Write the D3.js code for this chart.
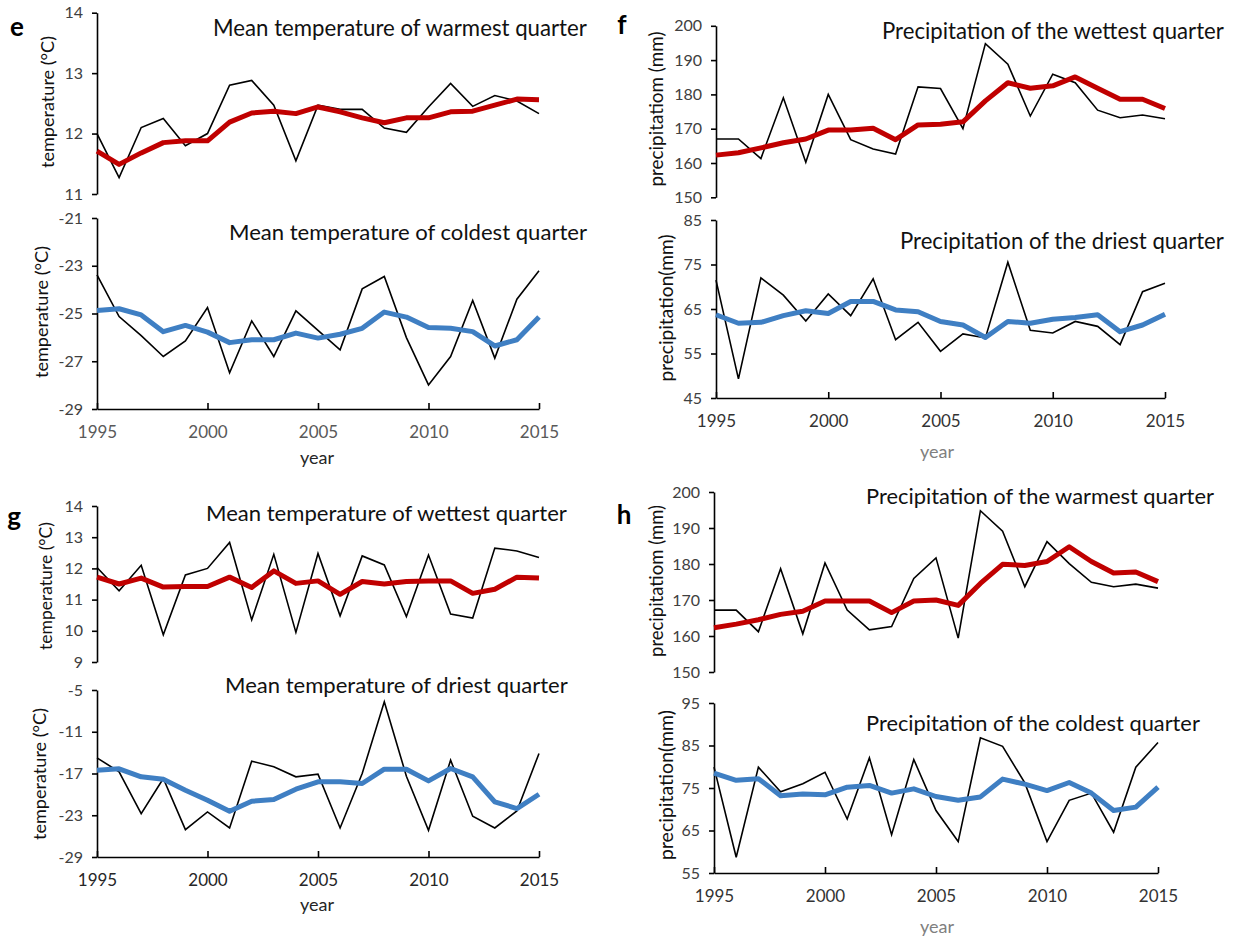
<!DOCTYPE html>
<html><head><meta charset="utf-8">
<script src="https://cdn.jsdelivr.net/npm/d3@7"></script>
<style>
html,body{margin:0;padding:0;background:#fff;}
svg{display:block;font-family:Lato,"Open Sans",sans-serif;}
</style></head>
<body>
<svg id="chart" width="1236" height="939"></svg>
<script>
// ---------------- DATA ----------------
const years = [1995,1996,1997,1998,1999,2000,2001,2002,2003,2004,2005,2006,2007,2008,2009,2010,2011,2012,2013,2014,2015];
const xTickYears = [1995,2000,2005,2010,2015];

// e: mean temperature of warmest quarter
const eWarmAnnual = [12.0,11.27,12.1,12.25,11.8,12.0,12.8,12.88,12.47,11.55,12.47,12.4,12.4,12.09,12.02,12.44,12.83,12.45,12.63,12.54,12.33];
const eWarmSmooth = [11.71,11.49,11.68,11.85,11.88,11.88,12.19,12.34,12.37,12.33,12.44,12.36,12.26,12.18,12.26,12.26,12.36,12.37,12.47,12.57,12.56];
const eWarmTicks = [11,12,13,14];
// e: mean temperature of coldest quarter
const eColdAnnual = [-23.38,-25.13,-25.93,-26.8,-26.15,-24.75,-27.48,-25.31,-26.8,-24.89,-25.71,-26.52,-23.97,-23.45,-26.01,-27.99,-26.8,-24.45,-26.87,-24.4,-23.21];
const eColdSmooth = [-24.87,-24.8,-25.06,-25.76,-25.5,-25.78,-26.22,-26.1,-26.1,-25.82,-26.03,-25.87,-25.62,-24.94,-25.15,-25.59,-25.62,-25.76,-26.36,-26.1,-25.15];
const eColdTicks = [-29,-27,-25,-23,-21];

// f: precipitation of the wettest quarter
const fWetAnnual = [167,167,161.3,179,160.2,180,166.8,164.1,162.6,182.2,181.7,170,194.8,188.8,173.7,185.9,183.4,175.4,173.2,174,172.9];
const fWetSmooth = [162.3,163,164.4,165.9,167,169.6,169.6,170.1,166.8,171.1,171.3,172,178.1,183.4,181.8,182.5,185.1,181.8,178.6,178.6,175.9];
const fWetTicks = [150,160,170,180,190,200];
// f: precipitation of the driest quarter
const fDryAnnual = [71.5,49.3,72,68.1,62.3,68.4,63.5,71.8,58.1,62,55.5,59.4,58.5,75.5,60.2,59.6,62.2,61.1,57,68.9,70.8];
const fDrySmooth = [63.7,61.8,62,63.5,64.6,64,66.7,66.7,64.8,64.4,62.2,61.4,58.6,62.2,61.8,62.7,63.1,63.7,59.9,61.4,63.8];
const fDryTicks = [45,55,65,75,85];

// g: mean temperature of wettest quarter
const gWetAnnual = [12.03,11.28,12.1,9.87,11.79,12.0,12.83,10.35,12.45,9.95,12.48,10.48,12.4,12.11,10.46,12.43,10.54,10.41,12.65,12.56,12.35];
const gWetSmooth = [11.72,11.5,11.69,11.4,11.42,11.42,11.72,11.39,11.92,11.52,11.6,11.17,11.58,11.5,11.58,11.6,11.6,11.2,11.33,11.72,11.69];
const gWetTicks = [9,10,11,12,13,14];
// g: mean temperature of driest quarter
const gDryAnnual = [-14.75,-16.76,-22.76,-17.72,-25.07,-22.52,-24.83,-15.23,-16.04,-17.48,-17.1,-24.83,-17.0,-6.68,-17.39,-25.17,-15.08,-23.14,-24.83,-22.38,-14.12];
const gDrySmooth = [-16.52,-16.33,-17.48,-17.82,-19.4,-20.84,-22.43,-20.99,-20.75,-19.26,-18.2,-18.2,-18.44,-16.38,-16.38,-18.06,-16.28,-17.48,-21.08,-22.04,-19.98];
const gDryTicks = [-29,-23,-17,-11,-5];

// h: precipitation of the warmest quarter
const hWarmAnnual = [167.2,167.2,161.2,178.7,160.6,180.3,167.2,161.7,162.6,176,181.7,159.4,194.8,189.1,173.7,186.2,180.1,174.9,173.7,174.4,173.3];
const hWarmSmooth = [162.3,163.3,164.5,166,166.9,169.7,169.7,169.7,166.5,169.7,170,168.5,174.6,179.9,179.6,180.7,184.8,180.7,177.5,177.8,175.1];
const hWarmTicks = [150,160,170,180,190,200];
// h: precipitation of the coldest quarter
const hColdAnnual = [79.9,58.7,79.9,74.1,76,78.7,67.7,82.1,64,81.7,69.7,62.4,86.8,84.8,76.2,62.4,72.1,73.8,64.6,79.9,85.7];
const hColdSmooth = [78.5,76.8,77.2,73.2,73.6,73.4,75.2,75.6,73.8,74.8,73,72.1,72.9,77.1,75.9,74.4,76.3,73.8,69.7,70.5,75.2];
const hColdTicks = [55,65,75,85,95];

// ---------------- LAYOUT ----------------
const RED = "#c00000", BLUE = "#3f7fc3";
const panels = [
  {x0:97,x1:539,yT:12.7,yB:194,ticks:eWarmTicks,a:eWarmAnnual,s:eWarmSmooth,c:RED,
   title:"Mean temperature of warmest quarter",tx:213,ty:28,tw:374,
   yl:"temperature (°C)",ylx:48,yly:102,ylw:132,xaxis:false},
  {x0:97,x1:539,yT:218,yB:409,ticks:eColdTicks,a:eColdAnnual,s:eColdSmooth,c:BLUE,
   title:"Mean temperature of coldest quarter",tx:229,ty:232,tw:358,
   yl:"temperature (°C)",ylx:42,yly:312,ylw:132,xaxis:true,xlc:"#595959",year:{x:317,y:458,c:"#262626"}},
  {x0:716,x1:1165,yT:25.8,yB:197.3,ticks:fWetTicks,a:fWetAnnual,s:fWetSmooth,c:RED,
   title:"Precipitation of the wettest quarter",tx:882,ty:31,tw:342,
   yl:"precipitatiom (mm)",ylx:656,yly:109,ylw:155,xaxis:false},
  {x0:716,x1:1165,yT:220,yB:398,ticks:fDryTicks,a:fDryAnnual,s:fDrySmooth,c:BLUE,
   title:"Precipitation of the driest quarter",tx:900,ty:241,tw:324,
   yl:"precipitation(mm)",ylx:666,yly:308,ylw:147,xaxis:true,xlc:"#333333",year:{x:937,y:452,c:"#808080"}},
  {x0:97,x1:539,yT:506,yB:662,ticks:gWetTicks,a:gWetAnnual,s:gWetSmooth,c:RED,
   title:"Mean temperature of wettest quarter",tx:206,ty:513,tw:361,
   yl:"temperature (°C)",ylx:46,yly:586,ylw:128,xaxis:false},
  {x0:97,x1:539,yT:690,yB:857,ticks:gDryTicks,a:gDryAnnual,s:gDrySmooth,c:BLUE,
   title:"Mean temperature of driest quarter",tx:225,ty:685,tw:343,
   yl:"temperature (°C)",ylx:40,yly:774,ylw:132,xaxis:true,xlc:"#262626",year:{x:317,y:905,c:"#262626"}},
  {x0:714,x1:1158,yT:492,yB:672,ticks:hWarmTicks,a:hWarmAnnual,s:hWarmSmooth,c:RED,
   title:"Precipitation of the warmest quarter",tx:866,ty:496,tw:348,
   yl:"precipitatiom (mm)",ylx:657,yly:581,ylw:152,xaxis:false},
  {x0:714,x1:1158,yT:703,yB:873,ticks:hColdTicks,a:hColdAnnual,s:hColdSmooth,c:BLUE,
   title:"Precipitation of the coldest quarter",tx:866,ty:723,tw:334,
   yl:"precipitation(mm)",ylx:666,yly:785,ylw:150,xaxis:true,xlc:"#333333",year:{x:937,y:927,c:"#808080"}}
];
const letters = [{t:"e",x:17,y:27},{t:"f",x:622,y:25},{t:"g",x:14,y:517},{t:"h",x:624,y:515}];

const svg = d3.select("#chart");

function fitText(sel, base, target){
  sel.style("font-size", base+"px");
  const len = sel.node().getComputedTextLength();
  if (len>0) sel.style("font-size", (base*target/len).toFixed(2)+"px");
}

panels.forEach(p=>{
  const x = d3.scaleLinear().domain([years[0], years[years.length-1]]).range([p.x0,p.x1]);
  const y = d3.scaleLinear().domain([p.ticks[0], p.ticks[p.ticks.length-1]]).range([p.yB,p.yT]);
  const g = svg.append("g");

  // y axis
  const ya = g.append("g").attr("transform",`translate(${p.x0},0)`)
    .call(d3.axisLeft(y).tickValues(p.ticks).tickSizeInner(5).tickSizeOuter(0).tickPadding(9).tickFormat(d=>String(d)));
  ya.select(".domain").attr("stroke","#000").attr("stroke-width",1.6);
  ya.selectAll(".tick line").attr("stroke","#000").attr("stroke-width",1.6);
  ya.selectAll(".tick text").attr("fill","#404040").style("font-size","16px").style("font-family","Lato,sans-serif");

  if (p.xaxis){
    const xa = g.append("g").attr("transform",`translate(0,${p.yB})`)
      .call(d3.axisBottom(x).tickValues(xTickYears).tickSizeInner(-6).tickSizeOuter(0).tickPadding(17).tickFormat(d=>String(d)));
    xa.select(".domain").attr("stroke","#000").attr("stroke-width",1.6);
    xa.selectAll(".tick line").attr("stroke","#000").attr("stroke-width",1.6);
    xa.selectAll(".tick text").attr("fill",p.xlc).style("font-size","17px").style("font-family","Lato,sans-serif");
    g.append("text").attr("x",p.year.x).attr("y",p.year.y).attr("dy","0.35em")
      .attr("text-anchor","middle").attr("fill",p.year.c).style("font-size","18px").text("year");
  }

  const line = d3.line().x((d,i)=>x(years[i])).y(d=>y(d));
  g.append("path").datum(p.a).attr("d",line).attr("fill","none")
    .attr("stroke","#000").attr("stroke-width",1.6).attr("stroke-linejoin","miter");
  g.append("path").datum(p.s).attr("d",line).attr("fill","none")
    .attr("stroke",p.c).attr("stroke-width",5).attr("stroke-linejoin","round").attr("stroke-linecap","butt");

  const t = g.append("text").attr("x",p.tx).attr("y",p.ty).attr("dy","0.35em")
    .attr("fill","#111").text(p.title);
  fitText(t, 20, p.tw);

  const yl = g.append("text").attr("transform",`translate(${p.ylx},${p.yly}) rotate(-90)`)
    .attr("text-anchor","middle").attr("dy","0.35em").attr("fill","#111").text(p.yl);
  fitText(yl, 17, p.ylw);
});

letters.forEach(l=>{
  svg.append("text").attr("x",l.x).attr("y",l.y).attr("dy","0.35em").attr("text-anchor","middle")
    .style("font-weight","bold").style("font-size","26px").attr("fill","#000").text(l.t);
});
</script>
</body></html>
